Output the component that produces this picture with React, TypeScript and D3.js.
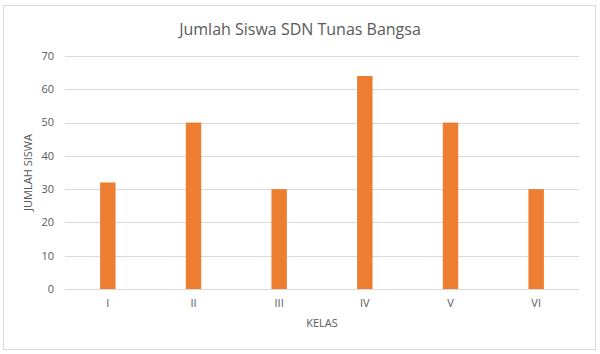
import React, { useEffect, useRef } from 'react';
import * as d3 from 'd3';

// data
const kelas = ['I', 'II', 'III', 'IV', 'V', 'VI'];
const jumlahSiswa = [32, 50, 30, 64, 50, 30];
const yTicks = [0, 10, 20, 30, 40, 50, 60, 70];

const W = 600;
const H = 354;

export default function App() {
  const ref = useRef<SVGSVGElement>(null);

  useEffect(() => {
    const svg = d3.select(ref.current);
    svg.selectAll('*').remove();

    const margin = { top: 56, right: 21, bottom: 65, left: 65 };
    const graphWidth = W - margin.left - margin.right;
    const graphHeight = H - margin.top - margin.bottom;
    const font = 'Open Sans, sans-serif';

    // chart frame
    svg.append('rect')
      .attr('x', 3.5).attr('y', 5.5)
      .attr('width', 592).attr('height', 344)
      .attr('fill', '#fff')
      .attr('stroke', '#d9d9d9');

    const graph = svg.append('g')
      .attr('transform', `translate(${margin.left}, ${margin.top})`);

    const y = d3.scaleLinear().domain([0, 70]).range([graphHeight, 0]);
    const x = d3.scaleBand().domain(kelas).range([0, graphWidth]).paddingInner(0.82).paddingOuter(0.41);

    // gridlines
    graph.selectAll('line.grid')
      .data(yTicks)
      .enter().append('line')
      .attr('class', 'grid')
      .attr('x1', 0).attr('x2', graphWidth)
      .attr('y1', d => Math.round(y(d)) + 0.5)
      .attr('y2', d => Math.round(y(d)) + 0.5)
      .attr('stroke', '#d9d9d9')
      .attr('stroke-width', 1);

    // y tick labels
    graph.selectAll('text.ytick')
      .data(yTicks)
      .enter().append('text')
      .attr('class', 'ytick')
      .attr('x', -11)
      .attr('y', d => y(d))
      .attr('dy', '0.35em')
      .attr('text-anchor', 'end')
      .attr('font-family', font)
      .attr('font-size', 11)
      .attr('fill', '#595959')
      .text(d => d);

    // bars
    graph.selectAll('rect.bar')
      .data(jumlahSiswa)
      .enter().append('rect')
      .attr('class', 'bar')
      .attr('x', (d, i) => x(kelas[i])!)
      .attr('width', x.bandwidth())
      .attr('y', d => y(d))
      .attr('height', d => graphHeight - y(d))
      .attr('fill', '#ed7d31');

    // x tick labels
    graph.selectAll('text.xtick')
      .data(kelas)
      .enter().append('text')
      .attr('class', 'xtick')
      .attr('x', d => x(d)! + x.bandwidth() / 2)
      .attr('y', graphHeight + 18)
      .attr('text-anchor', 'middle')
      .attr('font-family', font)
      .attr('font-size', 11)
      .attr('fill', '#595959')
      .text(d => d);

    // axis titles
    graph.append('text')
      .attr('x', graphWidth / 2)
      .attr('y', graphHeight + 38)
      .attr('text-anchor', 'middle')
      .attr('font-family', font)
      .attr('font-size', 11)
      .attr('fill', '#595959')
      .text('KELAS');

    graph.append('text')
      .attr('transform', `translate(${-33}, ${graphHeight / 2}) rotate(-90)`)
      .attr('text-anchor', 'middle')
      .attr('font-family', font)
      .attr('font-size', 11)
      .attr('fill', '#595959')
      .text('JUMLAH SISWA');

    // title
    svg.append('text')
      .attr('x', W / 2)
      .attr('y', 35)
      .attr('text-anchor', 'middle')
      .attr('font-family', font)
      .attr('font-size', 16)
      .attr('fill', '#595959')
      .text('Jumlah Siswa SDN Tunas Bangsa');
  }, []);

  return (
    <div style={{ position: 'fixed', top: 0, left: 0 }}>
      <svg ref={ref} width={W} height={H} style={{ display: 'block', background: '#fff' }} />
    </div>
  );
}
